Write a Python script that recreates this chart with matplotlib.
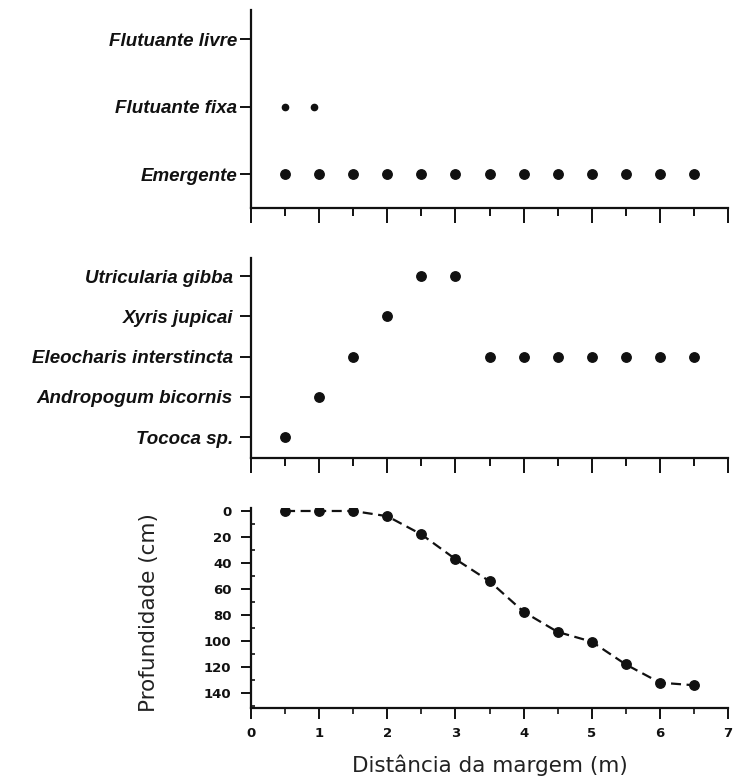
import matplotlib
matplotlib.use("Agg")
import matplotlib.pyplot as plt
from matplotlib.ticker import MultipleLocator

# ---- data ----
life_forms = ["Emergente", "Flutuante fixa", "Flutuante livre"]
emergente_x = [0.5, 1.0, 1.5, 2.0, 2.5, 3.0, 3.5, 4.0, 4.5, 5.0, 5.5, 6.0, 6.5]
flut_fixa_x = [0.5, 0.93]
flut_livre_x = []

species = ["Tococa sp.", "Andropogum bicornis", "Eleocharis interstincta",
           "Xyris jupicai", "Utricularia gibba"]
tococa_x = [0.5]
andropogum_x = [1.0]
eleocharis_x = [1.5, 3.5, 4.0, 4.5, 5.0, 5.5, 6.0, 6.5]
xyris_x = [2.0]
utricularia_x = [2.5, 3.0]

dist = [0.5, 1.0, 1.5, 2.0, 2.5, 3.0, 3.5, 4.0, 4.5, 5.0, 5.5, 6.0, 6.5]
depth = [0, 0, 0, 4, 18, 37, 54, 77.5, 93, 100.5, 118, 132, 134]

depth_ticks = [0, 20, 40, 60, 80, 100, 120, 140]
dist_ticks = [0, 1, 2, 3, 4, 5, 6, 7]

# ---- figure ----
W, H = 734, 780
fig = plt.figure(figsize=(W / 100, H / 100), dpi=100)

def rect(top_px, bot_px, left_px=251, right_px=728):
    return [left_px / W, 1 - bot_px / H, (right_px - left_px) / W, (bot_px - top_px) / H]

ax1 = fig.add_axes(rect(10, 208))
ax2 = fig.add_axes(rect(258, 458))
ax3 = fig.add_axes(rect(508, 708))

ink = "#111111"
cat_font = dict(family="Liberation Sans", weight="bold", style="italic", size=13.5, color="#1a1a1a")

for ax in (ax1, ax2, ax3):
    for s in ("top", "right"):
        ax.spines[s].set_visible(False)
    for s in ("left", "bottom"):
        ax.spines[s].set_linewidth(1.6)
        ax.spines[s].set_color(ink)
    ax.set_xlim(0, 7)
    ax.xaxis.set_major_locator(MultipleLocator(1))
    ax.xaxis.set_minor_locator(MultipleLocator(0.5))

# top panel: life forms
series1 = [emergente_x, flut_fixa_x, flut_livre_x]
sizes1 = [6.8, 4.5, 4.5]
for i, xs in enumerate(series1):
    if xs:
        ax1.plot(xs, [i + 1] * len(xs), "o", color=ink, ms=sizes1[i], mec=ink)
ax1.set_ylim(0.5, 3.43)
ax1.set_yticks([1, 2, 3])
ax1.set_yticklabels(life_forms, **cat_font)
ax1.tick_params(axis="y", which="major", direction="out", length=8, width=1.4, pad=2, colors=ink)
ax1.tick_params(axis="x", which="major", direction="out", length=11, width=1.4, labelbottom=False, colors=ink)
ax1.tick_params(axis="x", which="minor", direction="out", length=6, width=1.4, colors=ink)

# middle panel: species
series2 = [tococa_x, andropogum_x, eleocharis_x, xyris_x, utricularia_x]
for i, xs in enumerate(series2):
    ax2.plot(xs, [i + 1] * len(xs), "o", color=ink, ms=6.8, mec=ink)
ax2.set_ylim(0.48, 5.45)
ax2.set_yticks([1, 2, 3, 4, 5])
ax2.set_yticklabels(species, **cat_font)
ax2.tick_params(axis="y", which="major", direction="out", length=8, width=1.4, pad=5, colors=ink)
ax2.tick_params(axis="x", which="major", direction="out", length=11, width=1.4, labelbottom=False, colors=ink)
ax2.tick_params(axis="x", which="minor", direction="out", length=6, width=1.4, colors=ink)

# bottom panel: depth profile
ax3.plot(dist, depth, color=ink, lw=1.6, ls=(0, (4.5, 2.5)), marker="o", ms=6.8, mec=ink, mfc=ink)
ax3.set_ylim(151.5, -2.3)
ax3.set_yticks(depth_ticks)
ax3.yaxis.set_minor_locator(MultipleLocator(10))
ax3.set_xticks(dist_ticks)
tick_font = dict(family="DejaVu Sans", weight="bold", size=9.5, color="#222222")
ax3.set_yticklabels([str(v) for v in depth_ticks], **tick_font)
ax3.set_xticklabels([str(v) for v in dist_ticks], **tick_font)
ax3.tick_params(axis="y", which="major", direction="out", length=7, width=1.4, pad=7, colors=ink)
ax3.tick_params(axis="y", which="minor", direction="in", length=3, width=1.2, colors=ink)
ax3.tick_params(axis="x", which="major", direction="out", length=8, width=1.4, pad=6, colors=ink)
ax3.tick_params(axis="x", which="minor", direction="out", length=4, width=1.2, colors=ink)

ax3.set_ylabel("Profundidade (cm)", family="DejaVu Sans", size=15.5, color="#222222")
ax3.yaxis.set_label_coords(-0.192, 0.475)
ax3.set_xlabel("Distância da margem (m)", family="DejaVu Sans", size=15.5, color="#222222")
ax3.xaxis.set_label_coords(0.5, -0.235)

fig.savefig("out.png", dpi=100)
